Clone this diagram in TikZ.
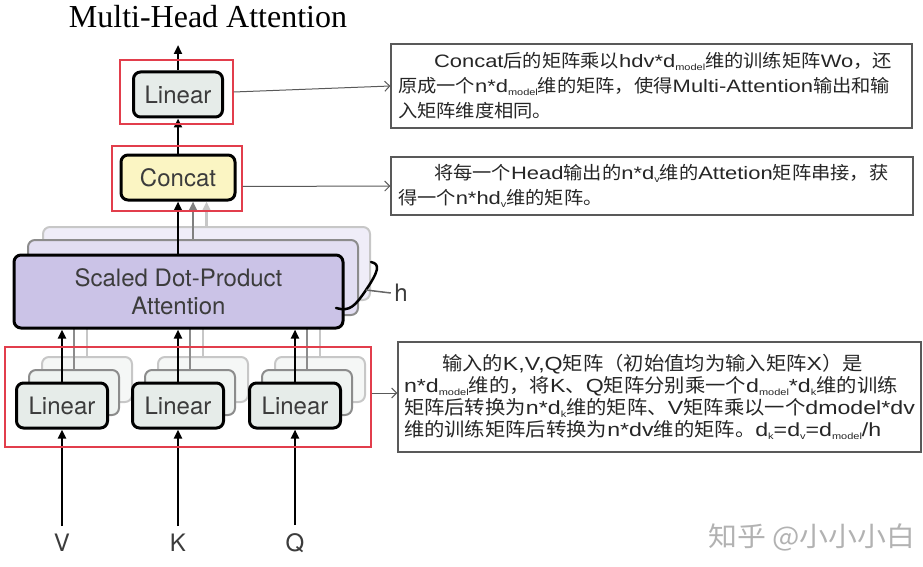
\documentclass[tikz,border=0pt]{standalone}
\usepackage{fontspec}
\setmainfont{Liberation Serif}
\newfontfamily\heros{TeX Gyre Heros}
\newfontfamily\cjk[FakeStretch=1.07]{Noto Sans CJK SC}
\newfontfamily\lat[FakeStretch=1.22]{Liberation Sans}
\newcommand\la[1]{{\lat#1}}
\newcommand\sub[1]{\raisebox{-0.3ex}{\fontsize{9}{9}\selectfont#1}}
\usetikzlibrary{arrows.meta}

\definecolor{linfill}{HTML}{E6ECE9}
\definecolor{catfill}{HTML}{FBF5C3}
\definecolor{attfill}{HTML}{CBC3E7}
\definecolor{redline}{HTML}{E23E4C}
\definecolor{txtgray}{HTML}{3C3C3C}

\begin{document}
\begin{tikzpicture}[x=1pt,y=-1pt,
    block/.style={draw,rounded corners=7pt,line width=3pt,text=txtgray,
      font=\heros\fontsize{24}{29}\selectfont},
    ghost/.style={draw=black!45,rounded corners=7pt,line width=2pt},
    ghostlight/.style={draw=black!22,rounded corners=7pt,line width=2pt},
    redbox/.style={draw=redline,line width=1.3pt,inner sep=0pt},
    note/.style={draw=black!65,line width=1.2pt,inner sep=0pt,text=black!85,
      font=\cjk\fontsize{18}{25}\selectfont,align=left},
    flow/.style={line width=2.5pt,-{Triangle[length=9pt,width=8pt]}},
    pointer/.style={draw=black!65,line width=1pt,-{Straight Barb[length=5pt,width=10pt]}}]

  \useasboundingbox (0,0) rectangle (923,567);

  \node[font=\fontsize{32}{38}\selectfont] (title) at (208,17) {Multi-Head Attention};

  % the h stacked heads behind
  \node[ghostlight,fill=attfill!30,minimum width=327,minimum height=73] (attB2) at (206.5,263.5) {};
  \node[ghost,fill=attfill!55,minimum width=330,minimum height=75] (attB1) at (193,277.5) {};

  \foreach \n/\x in {V/62,K/178,Q/295} {
    \node[ghostlight,fill=linfill!40,minimum width=90,minimum height=45] (lin\n B2) at (\x+25,379.5) {};
    \draw[black!22,line width=2.5pt] (lin\n B2.north) -- ++(0,-45);
    \node[ghost,fill=linfill!65,minimum width=90,minimum height=45] (lin\n B1) at (\x+12,392.5) {};
    \draw[black!45,line width=2.5pt] (lin\n B1.north) -- ++(0,-60);
    \node[block,fill=linfill,minimum width=91,minimum height=45] (lin\n) at (\x,405.5) {Linear};
    \node[font=\heros\fontsize{24}{29}\selectfont,text=txtgray,inner sep=8pt] (in\n) at (\x,543) {\n};
    \draw[flow] (in\n) -- (lin\n);
  }

  \node[block,fill=attfill,minimum width=329,minimum height=73,align=center] (att) at (178.5,291.5)
    {Scaled Dot-Product\\[-1pt]Attention};
  \foreach \n in {V,K,Q}
    \draw[flow] (lin\n.north) -- (lin\n.north |- att.south);

  \node[block,fill=catfill,minimum width=114,minimum height=45] (concat) at (178,177.5) {Concat};
  \node[block,fill=linfill,minimum width=89,minimum height=45] (linOut) at (178,94.5) {Linear};
  \coordinate (outTop) at (178,45);

  \draw[flow,black!22] (attB2.north) -- (attB2.north |- concat.south);
  \draw[flow,black!50] (attB1.north) -- (attB1.north |- concat.south);
  \draw[flow] (att.north -| concat) -- (concat);
  \draw[flow] (concat) -- (linOut);
  \draw[flow] (linOut) -- (outTop);

  % h brace
  \node[font=\heros\fontsize{24}{29}\selectfont,text=txtgray] (hLabel) at (401,293) {h};
  \draw[line width=2.5pt,line cap=round] (371,262) .. controls (381,264) and (378,272) .. (366,290)
    .. controls (355,306) and (350,312) .. (336,308);
  \draw[black!60,line width=1.5pt] (366,290) -- (hLabel.west);

  % red marks and notes
  \node[redbox,minimum width=113,minimum height=64] (rbOut) at (176.5,92) {};
  \node[redbox,minimum width=130,minimum height=65] (rbCat) at (177,178.5) {};
  \node[redbox,minimum width=366,minimum height=100] (rbLin) at (188,397) {};

  \node[note,minimum width=521,minimum height=84,text width=507] (noteOut) at (651.5,86)
    {\hspace*{2em}\la{Concat}后的矩阵乘以\la{hdv*d\sub{model}}维的训练矩阵\la{Wo}，还\\
     原成一个\la{n*d\sub{model}}维的矩阵，使得\la{Multi-Attention}输出和输\\
     入矩阵维度相同。};
  \node[note,minimum width=522,minimum height=58,text width=508] (noteCat) at (652,186)
    {\hspace*{2em}将每一个\la{Head}输出的\la{n*d\sub{v}}维的\la{Attetion}矩阵串接，获\\
     得一个\la{n*hd\sub{v}}维的矩阵。};
  \node[note,minimum width=523,minimum height=110,text width=511,
    font=\cjk\fontsize{19}{22}\selectfont] (noteLin) at (659.5,397)
    {\hspace*{2em}输入的\la{K,V,Q}矩阵（初始值均为输入矩阵\la{X}）是\\
     \la{n*d\sub{model}}维的，将\la{K}、\la{Q}矩阵分别乘一个\la{d\sub{model}*d\sub{k}}维的训练\\
     矩阵后转换为\la{n*d\sub{k}}维的矩阵、\la{V}矩阵乘以一个\la{dmodel*dv}\\
     维的训练矩阵后转换为\la{n*dv}维的矩阵。\la{d\sub{k}=d\sub{v}=d\sub{model}/h}};

  \draw[pointer] (rbOut.east) -- (noteOut.west);
  \draw[pointer] ([yshift=-8pt]rbCat.east) -- (noteCat.west);
  \draw[pointer] ([yshift=4pt]rbLin.east) -- ([yshift=4pt]noteLin.west);

  \node[font=\cjk\fontsize{27}{30}\selectfont,text=black!30] (mark) at (812,537) {知乎 @小小小白};
\end{tikzpicture}
\end{document}
